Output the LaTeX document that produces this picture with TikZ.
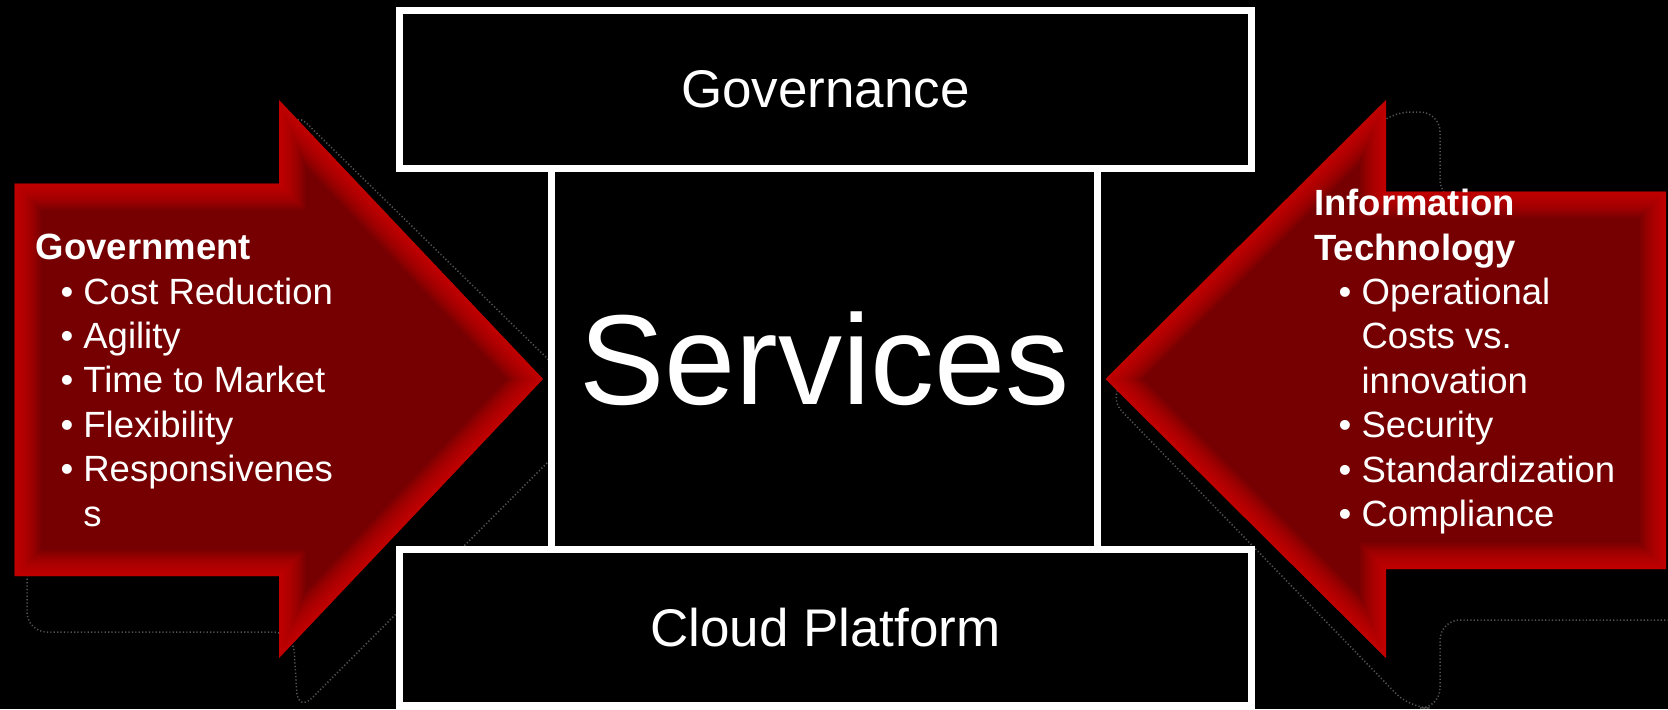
\documentclass[tikz,border=0pt]{standalone}
\usepackage{fontspec}
\setmainfont{Liberation Sans}
\definecolor{arrowdark}{RGB}{118,0,1}
\definecolor{arrowbright}{RGB}{230,8,8}
\definecolor{shadowgray}{RGB}{85,85,85}
\begin{document}
\begin{tikzpicture}[x=0.5pt,y=-0.5pt,
  box/.style={draw=white, line width=3.5pt, fill=black, inner sep=0pt, text=white},
  shadowline/.style={draw=shadowgray, line width=0.75pt, dash pattern=on 0.6pt off 1.1pt, rounded corners=10pt},
  listtext/.style={anchor=base west, inner sep=0pt, text=white, font=\fontsize{18.25pt}{22.2pt}\selectfont},
  bevel/.style={draw=arrowbright, line join=miter, opacity=0.085},
]
\clip (0,0) rectangle (1668,709);
\fill[black] (0,0) rectangle (1668,709);

% soft shadows of the arrows
\draw[shadowline] (27,190) -- (293,190) -- (293,110) -- (600,410) -- (298,712) -- (293,632) -- (27,632) -- cycle;
\draw[shadowline] (1108,397) -- (1390,112) -- (1440,112) -- (1440,200) -- (1700,200) -- (1700,620) -- (1440,620) -- (1440,708) -- (1410,708) -- cycle;

\def\leftarrowpath{(14.5,183.5) -- (279,183.5) -- (279,100) -- (543,379) -- (279,658) -- (279,576) -- (14.5,576) -- cycle}
\def\rightarrowpath{(1666,191.5) -- (1386,191.5) -- (1386,100) -- (1105.5,379) -- (1386,658) -- (1386,569) -- (1666,569) -- cycle}

\begin{scope}
  \clip \leftarrowpath;
  \fill[arrowdark] \leftarrowpath;
  \foreach \w in {1,...,13} {\draw[bevel, line width=\w*2pt] \leftarrowpath;}
\end{scope}
\begin{scope}
  \clip \rightarrowpath;
  \fill[arrowdark] \rightarrowpath;
  \foreach \w in {1,...,13} {\draw[bevel, line width=\w*2pt] \rightarrowpath;}
\end{scope}

% boxes
\node[box, minimum width=273pt, minimum height=190.25pt,
      font=\fontsize{64pt}{70pt}\selectfont] (services) at (824.5,358.75) {Services};
\node[box, minimum width=426pt, minimum height=79pt,
      font=\fontsize{26.5pt}{30pt}\selectfont] (gov) at (825.5,89.5) {Governance};
\node[box, minimum width=426pt, minimum height=78.25pt,
      font=\fontsize{26.5pt}{30pt}\selectfont] (cloud) at (825.5,627.25) {Cloud Platform};

% lists
\node[listtext] (govlist) at (35.5,259.7) {\parbox[t]{300pt}{%
{\bfseries Government}\\
\hspace*{15.5pt}\makebox[0pt]{•}\hspace*{8.25pt}Cost Reduction\\
\hspace*{15.5pt}\makebox[0pt]{•}\hspace*{8.25pt}Agility\\
\hspace*{15.5pt}\makebox[0pt]{•}\hspace*{8.25pt}Time to Market\\
\hspace*{15.5pt}\makebox[0pt]{•}\hspace*{8.25pt}Flexibility\\
\hspace*{15.5pt}\makebox[0pt]{•}\hspace*{8.25pt}Responsivenes\\
\hspace*{23.75pt}s}};

\node[listtext] (itlist) at (1313.7,215.6) {\parbox[t]{300pt}{%
{\bfseries Information}\\
{\bfseries Technology}\\
\hspace*{15.5pt}\makebox[0pt]{•}\hspace*{8.25pt}Operational\\
\hspace*{23.75pt}Costs vs.\\
\hspace*{23.75pt}innovation\\
\hspace*{15.5pt}\makebox[0pt]{•}\hspace*{8.25pt}Security\\
\hspace*{15.5pt}\makebox[0pt]{•}\hspace*{8.25pt}Standardization\\
\hspace*{15.5pt}\makebox[0pt]{•}\hspace*{8.25pt}Compliance}};
\end{tikzpicture}
\end{document}
